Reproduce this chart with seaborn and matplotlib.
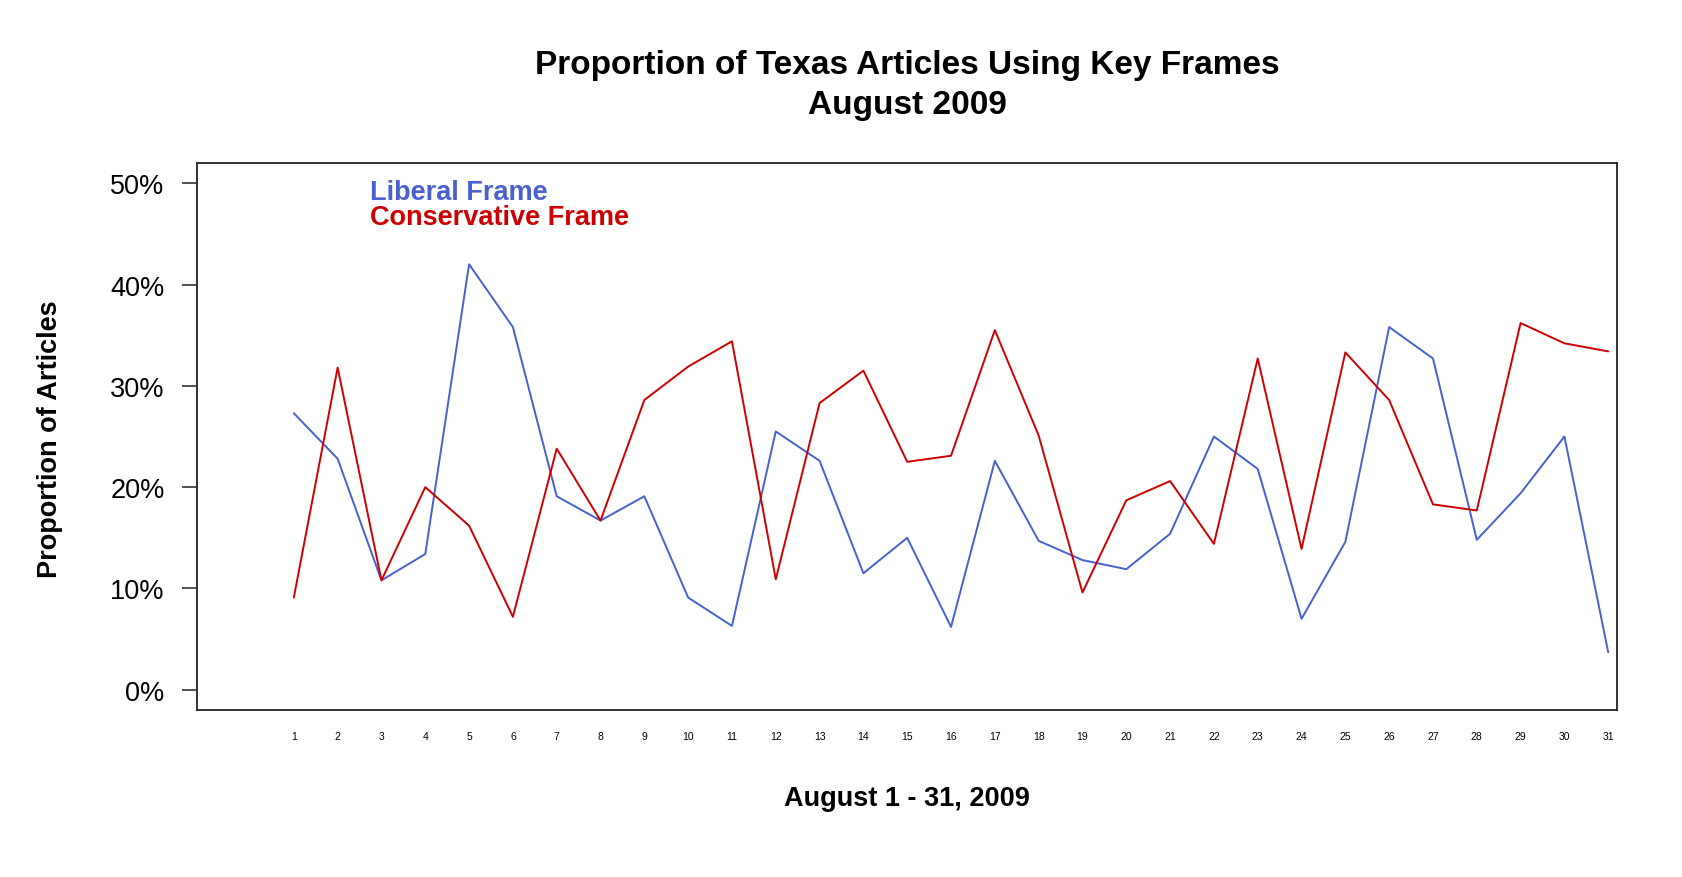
import numpy as np
import pandas as pd
import matplotlib
matplotlib.use("Agg")
import matplotlib.pyplot as plt
import seaborn as sns

# ---- data ----
days = list(range(1, 32))
liberal = [27.3, 22.8, 10.8, 13.4, 42.0, 35.8, 19.1, 16.7, 19.1, 9.1, 6.3,
           25.5, 22.6, 11.5, 15.0, 6.2, 22.6, 14.7, 12.8, 11.9, 15.4, 25.0,
           21.8, 7.0, 14.6, 35.8, 32.7, 14.8, 19.4, 25.0, 3.7]
conservative = [9.1, 31.8, 10.8, 20.0, 16.2, 7.2, 23.8, 16.7, 28.6, 31.9, 34.4,
                10.9, 28.3, 31.5, 22.5, 23.1, 35.5, 25.1, 9.6, 18.7, 20.6, 14.4,
                32.7, 13.9, 33.3, 28.6, 18.3, 17.7, 36.2, 34.2, 33.4]
series_names = ["Liberal Frame", "Conservative Frame"]
y_ticks = [0, 10, 20, 30, 40, 50]
y_tick_labels = ["0%", "10%", "20%", "30%", "40%", "50%"]
title_lines = ["Proportion of Texas Articles Using Key Frames", "August 2009"]
x_label = "August 1 - 31, 2009"
y_label = "Proportion of Articles"

colors = {"Liberal Frame": "#4560D0", "Conservative Frame": "#CD0000"}

df = pd.DataFrame({
    "day": days * 2,
    "value": liberal + conservative,
    "frame": [series_names[0]] * len(days) + [series_names[1]] * len(days),
})

sns.set_theme(style="white")
plt.rcParams["font.family"] = ["Liberation Sans", "DejaVu Sans"]
plt.rcParams["text.color"] = "black"
plt.rcParams["axes.labelcolor"] = "black"
plt.rcParams["xtick.color"] = "black"
plt.rcParams["ytick.color"] = "black"

fig = plt.figure(figsize=(16.82, 8.78), dpi=100)
ax = fig.add_axes([197 / 1682, 1 - 711 / 878, 1420 / 1682, 547 / 878])

sns.lineplot(data=df, x="day", y="value", hue="frame", palette=colors,
             estimator=None, sort=False, legend=False, linewidth=1.4, ax=ax)

ax.set_xlim(-1.21, 31.2)
ax.set_ylim(-2, 52)

ax.set_xticks(days)
ax.set_xticklabels([str(d) for d in days], fontsize=7.5)
ax.tick_params(axis="x", length=0, pad=15)
ax.set_yticks(y_ticks)
ax.set_yticklabels(y_tick_labels, fontsize=19.5)
ax.tick_params(axis="y", direction="out", length=10.8, width=1.1,
               color="#222222", pad=12.5, left=True)

for s in ax.spines.values():
    s.set_visible(True)
    s.set_color("#222222")
    s.set_linewidth(1.3)

ax.set_xlabel(x_label, fontsize=19.5, fontweight="bold")
ax.xaxis.label.set_va("center")
ax.xaxis.set_label_coords(0.5, -0.161)
ax.set_ylabel(y_label, fontsize=19.5, fontweight="bold")
ax.yaxis.label.set_va("center")
ax.yaxis.set_label_coords(-0.1035, 0.497)

fig.text(907 / 1682, 1 - 74 / 878, title_lines[0], ha="center", va="baseline",
         fontsize=24, fontweight="bold")
fig.text(907 / 1682, 1 - 114 / 878, title_lines[1], ha="center", va="baseline",
         fontsize=24, fontweight="bold")

ax.text(0.1218, 0.934, series_names[0], transform=ax.transAxes,
        color="#4A60CF", fontsize=19.5, fontweight="bold", va="baseline")
ax.text(0.1218, 0.888, series_names[1], transform=ax.transAxes,
        color="#CC0000", fontsize=19.5, fontweight="bold", va="baseline")

fig.savefig("out.png", dpi=100)
